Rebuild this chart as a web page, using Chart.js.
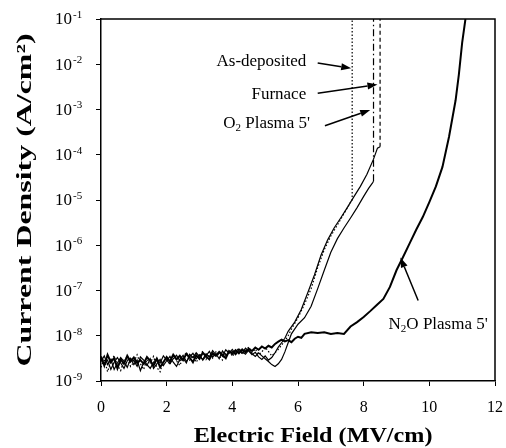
<!DOCTYPE html>
<html>
<head>
<meta charset="utf-8">
<script src="https://cdn.jsdelivr.net/npm/chart.js@4.4.0/dist/chart.umd.min.js"></script>
<style>
  html, body { margin: 0; padding: 0; background: #fff; }
  #wrap { width: 506px; height: 448px; }
</style>
</head>
<body>
<div id="wrap"><canvas id="jv"></canvas></div>
<script>
// Low field part (noise floor), shared field grid, MV/cm
var fieldLow = [0.0, 0.1, 0.2, 0.3, 0.4, 0.5, 0.6, 0.7, 0.8, 0.9,
  1.0, 1.1, 1.2, 1.3, 1.4, 1.5, 1.6, 1.7, 1.8, 1.9,
  2.0, 2.1, 2.2, 2.3, 2.4, 2.5, 2.6, 2.7, 2.8, 2.9,
  3.0, 3.1, 3.2, 3.3, 3.4, 3.5, 3.6, 3.7, 3.8, 3.9,
  4.0, 4.1, 4.2, 4.3, 4.4, 4.5, 4.6, 4.7, 4.8, 4.9,
  5.0, 5.1, 5.2, 5.3, 5.4, 5.5, 5.6];

// noise floor current, in nA/cm2
var n2oLowNA = [3.5, 2.2, 3.8, 2.6, 3.2, 1.9, 3.0, 2.4, 3.6, 2.7,
  3.3, 2.5, 2.9, 2.4, 3.4, 2.8, 2.2, 3.1, 2.0, 2.6,
  3.4, 2.7, 3.8, 3.0, 3.6, 2.9, 4.0, 3.3, 2.6, 3.7,
  3.1, 4.2, 3.5, 3.0, 4.1, 3.6, 4.4, 3.8, 3.2, 4.6,
  4.0, 4.8, 4.1, 5.0, 4.3, 5.2, 4.6, 5.5, 4.9, 5.8,
  5.2, 6.0, 5.5, 6.6, 7.4, 8.2, 7.5];
var asDepLowNA = [2.0, 3.1, 1.6, 2.8, 3.6, 2.2, 1.7, 2.9, 3.4, 2.1,
  2.6, 3.8, 2.4, 1.8, 3.0, 2.5, 3.5, 2.0, 1.6, 2.7,
  3.2, 2.3, 3.9, 2.8, 2.2, 3.3, 4.3, 2.9, 3.6, 2.6,
  3.4, 4.6, 3.0, 3.9, 3.2, 4.4, 3.6, 2.9, 4.1, 4.8,
  3.5, 4.4, 5.3, 3.9, 4.7, 5.6, 4.2, 5.1, 3.8, 4.4,
  5.6, 4.5, 3.6, 4.2, 5.0, 6.2, 7.6];
var furnaceLowNA = [3.0, 2.4, 2.9, 1.8, 2.6, 3.3, 2.5, 1.9, 2.8, 3.2,
  2.3, 2.9, 1.7, 2.6, 2.2, 3.1, 1.9, 2.4, 3.0, 2.2,
  2.8, 3.5, 2.6, 2.1, 3.0, 3.7, 2.7, 3.4, 4.1, 3.1,
  3.8, 2.9, 3.6, 4.5, 3.4, 4.0, 3.1, 4.6, 3.7, 4.2,
  5.0, 3.9, 4.7, 4.1, 5.3, 4.6, 3.8, 4.3, 3.4, 3.0,
  3.6, 2.9, 3.3, 4.2, 5.6, 7.0, 8.8];
var o2LowNA = [2.7, 3.6, 2.3, 3.0, 1.8, 2.5, 3.3, 2.7, 2.0, 3.1,
  2.8, 2.1, 3.4, 2.9, 2.3, 1.9, 2.6, 3.2, 2.5, 3.6,
  2.9, 2.4, 3.1, 3.7, 2.8, 3.2, 2.5, 3.9, 3.3, 4.2,
  3.5, 3.0, 4.0, 3.4, 4.7, 3.8, 4.3, 3.5, 4.9, 4.1,
  4.5, 3.8, 5.1, 4.4, 3.9, 4.8, 4.0, 3.5, 4.2, 3.6,
  3.1, 2.7, 2.3, 2.1, 2.4, 3.0, 4.4];

// high field part, A/cm2
var n2oField = [5.7, 5.8, 5.9, 6.0, 6.1, 6.2, 6.4, 6.6, 6.8, 7.0, 7.2, 7.4, 7.6, 7.8, 8.0, 8.2,
  8.4, 8.6, 8.8, 9.0, 9.2, 9.4, 9.6, 9.8, 10.0, 10.2, 10.4, 10.6, 10.8, 10.9, 11.0, 11.1];
var n2oJ = [8.0e-9, 7.2e-9, 8.6e-9, 9.5e-9, 9.0e-9, 1.1e-8, 1.2e-8, 1.15e-8, 1.2e-8, 1.1e-8, 1.15e-8, 1.1e-8, 1.6e-8, 2.0e-8, 2.6e-8, 3.5e-8,
  4.8e-8, 6.5e-8, 1.2e-7, 2.8e-7, 5.5e-7, 1.1e-6, 2.2e-6, 4.2e-6, 9.0e-6, 2.0e-5, 5.4e-5, 2.5e-4, 1.6e-3, 6.0e-3, 3.0e-2, 1.0e-1];

var asDepField = [5.7, 5.8, 6.0, 6.2, 6.4, 6.6, 6.8, 7.0, 7.2, 7.4, 7.6, 7.65, 7.65];
var asDepJ = [1.0e-8, 1.4e-8, 2.5e-8, 5.0e-8, 1.1e-7, 3.2e-7, 8.0e-7, 1.6e-6, 2.8e-6, 5.0e-6, 8.9e-6, 1.0e-5, 1.0e-1];

var furnaceField = [5.7, 5.9, 6.1, 6.3, 6.5, 6.7, 6.9, 7.1, 7.3, 7.5, 7.7, 7.9, 8.1, 8.3, 8.42, 8.5, 8.5];
var furnaceJ = [1.25e-8, 2.0e-8, 3.8e-8, 9.0e-8, 2.2e-7, 6.0e-7, 1.3e-6, 2.4e-6, 4.0e-6, 6.8e-6, 1.17e-5, 2.0e-5, 3.7e-5, 8.0e-5, 1.4e-4, 1.5e-4, 1.0e-1];

var o2Field = [5.7, 5.8, 6.0, 6.2, 6.4, 6.6, 6.8, 7.0, 7.2, 7.4, 7.6, 7.8, 8.0, 8.15, 8.27, 8.3, 8.3];
var o2J = [7.0e-9, 1.1e-8, 1.8e-8, 2.5e-8, 4.5e-8, 1.1e-7, 2.8e-7, 7.0e-7, 1.4e-6, 2.4e-6, 4.0e-6, 6.8e-6, 1.2e-5, 1.8e-5, 2.4e-5, 2.6e-5, 1.0e-1];

var xTicks = [0, 2, 4, 6, 8, 10, 12];
var yExponents = [-9, -8, -7, -6, -5, -4, -3, -2, -1];

// labels + arrows, positions in data units (field, log10 J)
var notes = [
  { parts: [['As-deposited']], at: [6.25, -1.95], align: 'right', from: [6.6, -1.97], to: [7.62, -2.09] },
  { parts: [['Furnace']], at: [6.25, -2.66], align: 'right', from: [6.6, -2.64], to: [8.42, -2.45] },
  { parts: [['O'], ['2', true], [" Plasma 5'"]], at: [6.37, -3.32], align: 'right', from: [6.82, -3.36], to: [8.2, -3.01] },
  { parts: [['N'], ['2', true], ["O Plasma 5'"]], at: [10.27, -7.76], align: 'center', from: [9.66, -7.22], to: [9.12, -6.27] }
];

function series(lowNA, field, j) {
  var pts = fieldLow.map(function (e, i) { return { x: e, y: lowNA[i] * 1e-9 }; });
  field.forEach(function (e, i) { pts.push({ x: e, y: j[i] }); });
  return pts;
}

// dash only the vertical (breakdown) part of a curve
function vertDash(dash) {
  return function (ctx) {
    return ctx.p0.parsed.x === ctx.p1.parsed.x ? dash : undefined;
  };
}

var serif = '"Liberation Serif", "Times New Roman", serif';

function drawParts(ctx, parts, px, py, size, align) {
  var w = 0;
  parts.forEach(function (p) {
    ctx.font = (p[1] ? 11 : size) + 'px ' + serif;
    w += ctx.measureText(p[0]).width;
  });
  var cx = align === 'center' ? px - w / 2 : px - w;
  ctx.textAlign = 'left';
  ctx.textBaseline = 'middle';
  parts.forEach(function (p) {
    ctx.font = (p[1] ? 11 : size) + 'px ' + serif;
    ctx.fillText(p[0], cx, p[1] ? py + 4 : py);
    cx += ctx.measureText(p[0]).width;
  });
}

function arrow(ctx, x0, y0, x1, y1) {
  var ang = Math.atan2(y1 - y0, x1 - x0);
  var len = 10, half = 3.5;
  var bx = x1 - len * Math.cos(ang), by = y1 - len * Math.sin(ang);
  ctx.lineWidth = 1.5;
  ctx.beginPath();
  ctx.moveTo(x0, y0);
  ctx.lineTo(bx, by);
  ctx.stroke();
  ctx.beginPath();
  ctx.moveTo(x1, y1);
  ctx.lineTo(bx + half * Math.sin(ang), by - half * Math.cos(ang));
  ctx.lineTo(bx - half * Math.sin(ang), by + half * Math.cos(ang));
  ctx.closePath();
  ctx.fill();
}

var decorations = {
  id: 'decorations',
  afterDraw: function (chart) {
    var ctx = chart.ctx, a = chart.chartArea;
    var x = chart.scales.x, y = chart.scales.y;
    ctx.save();
    ctx.strokeStyle = '#000';
    ctx.fillStyle = '#000';

    // box: top and right sides
    ctx.lineWidth = 1.5;
    ctx.beginPath();
    ctx.moveTo(a.left, a.top);
    ctx.lineTo(a.right, a.top);
    ctx.lineTo(a.right, a.bottom);
    ctx.stroke();

    // y tick labels 10^n
    yExponents.forEach(function (e) {
      var py = y.getPixelForValue(Math.pow(10, e));
      ctx.textBaseline = 'middle';
      ctx.font = '17px ' + serif;
      ctx.textAlign = 'right';
      ctx.fillText('10', a.left - 29, py + 1);
      ctx.font = '11px ' + serif;
      ctx.textAlign = 'left';
      ctx.fillText(String(e), a.left - 28, py - 4);
    });

    // curve labels
    notes.forEach(function (n) {
      drawParts(ctx, n.parts, x.getPixelForValue(n.at[0]), y.getPixelForValue(Math.pow(10, n.at[1])), 17, n.align);
      arrow(ctx,
        x.getPixelForValue(n.from[0]), y.getPixelForValue(Math.pow(10, n.from[1])),
        x.getPixelForValue(n.to[0]), y.getPixelForValue(Math.pow(10, n.to[1])));
    });

    // axis titles (the scan has them stretched along the text)
    ctx.textAlign = 'center';
    ctx.textBaseline = 'middle';
    ctx.font = 'bold 21px ' + serif;
    ctx.save();
    ctx.translate(x.getPixelForValue(6.46), chart.height - 11);
    ctx.scale(1.15, 1);
    ctx.fillText('Electric Field (MV/cm)', 0, 0);
    ctx.restore();

    ctx.font = 'bold 22px ' + serif;
    ctx.save();
    ctx.translate(a.left - 76, (a.top + a.bottom) / 2);
    ctx.rotate(-Math.PI / 2);
    ctx.scale(1.45, 1);
    ctx.fillText('Current Density (A/cm\u00B2)', 0, 0);
    ctx.restore();

    ctx.restore();
  }
};

var jvChart = new Chart(document.getElementById('jv'), {
  type: 'line',
  data: {
    datasets: [
      {
        label: "N2O Plasma 5'",
        data: series(n2oLowNA, n2oField, n2oJ),
        borderColor: '#000',
        borderWidth: 2
      },
      {
        label: 'As-deposited',
        data: series(asDepLowNA, asDepField, asDepJ),
        borderColor: '#000',
        borderWidth: 1.2,
        borderDash: [1.5, 2]
      },
      {
        label: 'Furnace',
        data: series(furnaceLowNA, furnaceField, furnaceJ),
        borderColor: '#000',
        borderWidth: 1.2,
        segment: { borderDash: vertDash([4, 3]) }
      },
      {
        label: "O2 Plasma 5'",
        data: series(o2LowNA, o2Field, o2J),
        borderColor: '#000',
        borderWidth: 1.2,
        segment: { borderDash: vertDash([7, 3, 1.5, 3]) }
      }
    ]
  },
  options: {
    responsive: true,
    maintainAspectRatio: false,
    animation: false,
    layout: { padding: { top: 19, right: 11, left: 0, bottom: 0 } },
    elements: { point: { radius: 0 }, line: { tension: 0 } },
    plugins: { legend: { display: false }, tooltip: { enabled: false } },
    scales: {
      x: {
        type: 'linear',
        min: 0,
        max: 12,
        afterBuildTicks: function (s) { s.ticks = xTicks.map(function (v) { return { value: v }; }); },
        afterFit: function (s) { s.height = 67; s.paddingLeft = 0; s.paddingRight = 0; },
        ticks: { color: '#000', font: { family: serif, size: 16 }, padding: 12, maxRotation: 0 },
        grid: { drawOnChartArea: false, tickLength: 5, color: '#000' },
        border: { color: '#000', width: 1.5 }
      },
      y: {
        type: 'logarithmic',
        min: 1e-9,
        max: 1e-1,
        afterBuildTicks: function (s) { s.ticks = yExponents.map(function (e) { return { value: Math.pow(10, e) }; }); },
        afterFit: function (s) { s.width = 101; s.paddingTop = 0; s.paddingBottom = 0; },
        ticks: { display: false },
        grid: { drawOnChartArea: false, tickLength: 5, color: '#000' },
        border: { color: '#000', width: 1.5 }
      }
    }
  },
  plugins: [decorations]
});
</script>
</body>
</html>
